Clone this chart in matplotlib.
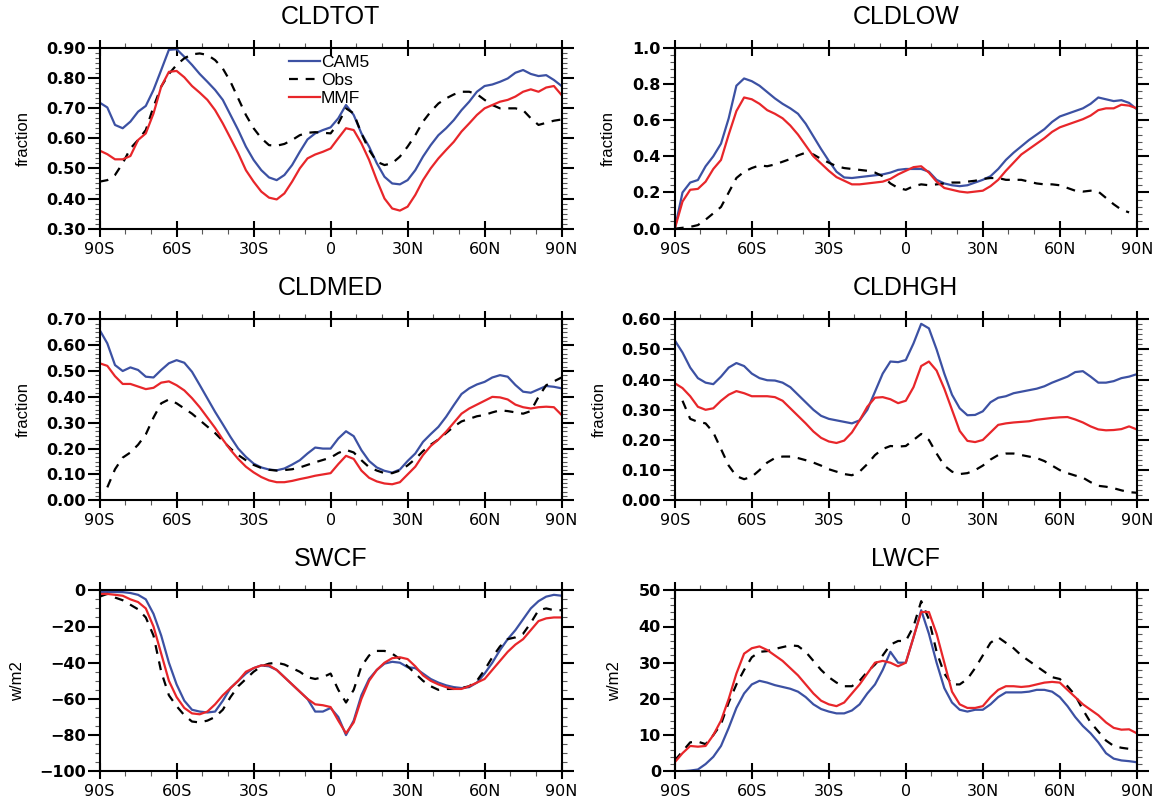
import numpy as np
import matplotlib
matplotlib.use('Agg')
import matplotlib.pyplot as plt
from matplotlib.ticker import FixedLocator, MultipleLocator, AutoMinorLocator, FuncFormatter

# ── Data (zonal means, 3 degree latitude steps, 90S -> 90N) ─────────────────

LAT = np.arange(-90, 91, 3)
LAT_TICKS = [-90, -60, -30, 0, 30, 60, 90]
LAT_LABELS = ['90S', '60S', '30S', '0', '30N', '60N', '90N']

nan = np.nan

cldtot_cam5 = [0.718, 0.702, 0.644, 0.633, 0.655, 0.688, 0.707, 0.760, 0.826, 0.893,
               0.895, 0.870, 0.843, 0.813, 0.787, 0.760, 0.727, 0.677, 0.627, 0.572,
               0.528, 0.494, 0.470, 0.461, 0.478, 0.511, 0.555, 0.596, 0.616, 0.627,
               0.636, 0.666, 0.710, 0.677, 0.616, 0.572, 0.517, 0.472, 0.450, 0.447,
               0.461, 0.494, 0.539, 0.577, 0.610, 0.633, 0.660, 0.693, 0.721, 0.754,
               0.773, 0.778, 0.787, 0.798, 0.817, 0.826, 0.813, 0.806, 0.809, 0.793,
               0.773]
cldtot_obs = [0.456, 0.461, 0.478, 0.517, 0.566, 0.594, 0.627, 0.704, 0.771, 0.813,
              0.843, 0.865, 0.878, 0.881, 0.876, 0.859, 0.831, 0.787, 0.732, 0.677,
              0.633, 0.600, 0.577, 0.575, 0.581, 0.594, 0.610, 0.618, 0.620, 0.618,
              0.616, 0.649, 0.699, 0.682, 0.616, 0.561, 0.522, 0.511, 0.517, 0.539,
              0.572, 0.610, 0.655, 0.688, 0.715, 0.732, 0.745, 0.754, 0.754, 0.746,
              0.727, 0.710, 0.699, 0.699, 0.699, 0.693, 0.666, 0.644, 0.651, 0.658,
              0.662]
cldtot_mmf = [0.559, 0.547, 0.530, 0.530, 0.541, 0.594, 0.616, 0.682, 0.771, 0.820,
              0.823, 0.802, 0.773, 0.751, 0.727, 0.693, 0.649, 0.600, 0.550, 0.494,
              0.456, 0.423, 0.403, 0.397, 0.417, 0.456, 0.500, 0.533, 0.546, 0.555,
              0.566, 0.600, 0.633, 0.627, 0.583, 0.528, 0.461, 0.400, 0.367, 0.360,
              0.373, 0.412, 0.461, 0.500, 0.533, 0.561, 0.588, 0.622, 0.649, 0.677,
              0.699, 0.710, 0.721, 0.727, 0.738, 0.754, 0.762, 0.754, 0.768, 0.773,
              0.743]

cldlow_cam5 = [0.000, 0.200, 0.255, 0.269, 0.345, 0.400, 0.470, 0.610, 0.790, 0.830,
               0.815, 0.790, 0.755, 0.720, 0.690, 0.665, 0.635, 0.580, 0.510, 0.440,
               0.375, 0.315, 0.283, 0.280, 0.285, 0.290, 0.295, 0.300, 0.310, 0.325,
               0.330, 0.330, 0.330, 0.315, 0.270, 0.250, 0.240, 0.235, 0.240, 0.255,
               0.270, 0.290, 0.330, 0.380, 0.420, 0.455, 0.490, 0.520, 0.550, 0.590,
               0.620, 0.635, 0.650, 0.665, 0.690, 0.725, 0.715, 0.705, 0.710, 0.695,
               0.660]
cldlow_obs = [0.000, 0.005, 0.010, 0.020, 0.050, 0.085, 0.120, 0.200, 0.280, 0.315,
              0.335, 0.350, 0.345, 0.355, 0.370, 0.385, 0.405, 0.420, 0.410, 0.385,
              0.365, 0.345, 0.335, 0.330, 0.325, 0.320, 0.310, 0.290, 0.250, 0.225,
              0.215, 0.235, 0.245, 0.240, 0.245, 0.250, 0.255, 0.255, 0.260, 0.265,
              0.275, 0.280, 0.280, 0.270, 0.270, 0.270, 0.260, 0.250, 0.245, 0.245,
              0.240, 0.225, 0.210, 0.205, 0.210, 0.205, 0.170, 0.135, 0.105, 0.090,
              nan]
cldlow_mmf = [0.000, 0.150, 0.215, 0.220, 0.260, 0.330, 0.380, 0.520, 0.650, 0.725,
              0.715, 0.690, 0.655, 0.635, 0.610, 0.570, 0.520, 0.460, 0.400, 0.360,
              0.320, 0.285, 0.265, 0.245, 0.245, 0.250, 0.255, 0.260, 0.275, 0.300,
              0.320, 0.340, 0.345, 0.310, 0.260, 0.225, 0.215, 0.205, 0.200, 0.205,
              0.210, 0.235, 0.270, 0.320, 0.365, 0.410, 0.440, 0.470, 0.500, 0.535,
              0.560, 0.575, 0.590, 0.605, 0.625, 0.655, 0.665, 0.665, 0.685, 0.680,
              0.665]

cldmed_cam5 = [0.659, 0.607, 0.523, 0.500, 0.514, 0.504, 0.478, 0.475, 0.504, 0.530,
               0.542, 0.532, 0.497, 0.446, 0.394, 0.342, 0.294, 0.245, 0.200, 0.168,
               0.142, 0.127, 0.119, 0.116, 0.123, 0.138, 0.155, 0.181, 0.204, 0.200,
               0.200, 0.239, 0.267, 0.248, 0.194, 0.152, 0.127, 0.114, 0.107, 0.119,
               0.152, 0.181, 0.226, 0.256, 0.284, 0.323, 0.368, 0.411, 0.433, 0.448,
               0.458, 0.475, 0.484, 0.478, 0.446, 0.420, 0.416, 0.429, 0.442, 0.439,
               0.433]
cldmed_obs = [nan, 0.050, 0.120, 0.165, 0.185, 0.215, 0.255, 0.320, 0.375, 0.390,
              0.375, 0.355, 0.335, 0.310, 0.285, 0.260, 0.230, 0.200, 0.175, 0.155,
              0.137, 0.125, 0.118, 0.115, 0.117, 0.120, 0.127, 0.137, 0.147, 0.156,
              0.165, 0.183, 0.195, 0.185, 0.155, 0.128, 0.115, 0.105, 0.105, 0.115,
              0.135, 0.160, 0.190, 0.215, 0.235, 0.260, 0.285, 0.305, 0.315, 0.325,
              0.330, 0.340, 0.348, 0.345, 0.340, 0.335, 0.345, 0.400, 0.445, 0.460,
              0.475]
cldmed_mmf = [0.530, 0.520, 0.480, 0.450, 0.450, 0.440, 0.430, 0.435, 0.455, 0.460,
              0.445, 0.425, 0.395, 0.360, 0.320, 0.280, 0.235, 0.195, 0.160, 0.130,
              0.108, 0.090, 0.077, 0.070, 0.070, 0.075, 0.082, 0.088, 0.095, 0.100,
              0.105, 0.140, 0.172, 0.160, 0.115, 0.087, 0.073, 0.065, 0.062, 0.070,
              0.100, 0.130, 0.175, 0.210, 0.235, 0.265, 0.300, 0.335, 0.355, 0.370,
              0.385, 0.400, 0.398, 0.390, 0.370, 0.360, 0.355, 0.360, 0.362, 0.360,
              0.330]

cldhgh_cam5 = [0.530, 0.490, 0.440, 0.405, 0.390, 0.385, 0.410, 0.440, 0.455, 0.445,
               0.420, 0.405, 0.398, 0.397, 0.390, 0.375, 0.350, 0.325, 0.300, 0.280,
               0.270, 0.265, 0.260, 0.255, 0.265, 0.300, 0.360, 0.420, 0.460, 0.458,
               0.465, 0.520, 0.585, 0.570, 0.500, 0.420, 0.350, 0.305, 0.282, 0.283,
               0.295, 0.325, 0.340, 0.345, 0.355, 0.360, 0.365, 0.370, 0.378, 0.390,
               0.400, 0.410, 0.425, 0.428, 0.410, 0.390, 0.390, 0.395, 0.405, 0.410,
               0.418]
cldhgh_obs = [nan, 0.330, 0.270, 0.260, 0.255, 0.225, 0.170, 0.115, 0.080, 0.070,
              0.078, 0.100, 0.125, 0.140, 0.145, 0.145, 0.140, 0.133, 0.125, 0.115,
              0.103, 0.095, 0.087, 0.083, 0.095, 0.120, 0.150, 0.170, 0.180, 0.178,
              0.180, 0.200, 0.220, 0.200, 0.155, 0.115, 0.095, 0.087, 0.090, 0.100,
              0.115, 0.135, 0.150, 0.155, 0.155, 0.150, 0.145, 0.140, 0.130, 0.115,
              0.100, 0.090, 0.082, 0.075, 0.060, 0.048, 0.045, 0.040, 0.033, 0.027,
              0.025]
cldhgh_mmf = [0.388, 0.372, 0.345, 0.310, 0.300, 0.305, 0.330, 0.350, 0.362, 0.355,
              0.345, 0.345, 0.345, 0.342, 0.330, 0.305, 0.280, 0.255, 0.228, 0.207,
              0.195, 0.190, 0.198, 0.225, 0.265, 0.310, 0.340, 0.342, 0.335, 0.322,
              0.330, 0.375, 0.445, 0.460, 0.430, 0.370, 0.300, 0.230, 0.197, 0.193,
              0.200, 0.225, 0.250, 0.255, 0.258, 0.260, 0.262, 0.267, 0.270, 0.273,
              0.275, 0.276, 0.268, 0.258, 0.245, 0.235, 0.232, 0.233, 0.236, 0.245,
              0.235]

swcf_cam5 = [-1.0, -1.0, -1.0, -1.0, -1.5, -2.5, -5.0, -13.0, -25.0, -40.0,
             -52.0, -61.0, -66.0, -67.0, -67.5, -67.0, -61.0, -54.0, -50.0, -46.0,
             -43.0, -41.5, -42.0, -44.0, -48.0, -52.0, -56.0, -60.0, -67.0, -67.0,
             -65.0, -70.0, -80.0, -72.0, -58.0, -49.0, -44.0, -40.5, -39.5, -40.0,
             -42.5, -43.0, -46.0, -49.0, -51.0, -52.5, -53.5, -54.0, -53.5, -51.0,
             -46.0, -40.0, -33.0, -27.0, -22.0, -16.0, -10.0, -6.0, -3.5, -2.5,
             -3.0]
swcf_obs = [-3.5, -2.0, -4.0, -5.5, -8.0, -10.5, -15.0, -25.0, -45.0, -58.0,
            -64.0, -69.0, -72.5, -73.0, -72.0, -70.0, -66.0, -59.0, -53.0, -49.0,
            -45.0, -42.0, -40.5, -40.0, -41.0, -43.0, -45.0, -48.0, -49.0, -48.0,
            -46.0, -55.0, -62.0, -55.0, -42.0, -36.0, -33.5, -33.5, -35.0, -38.0,
            -42.0, -46.0, -50.0, -53.0, -55.0, -54.5, -54.5, -54.0, -53.0, -50.0,
            -44.0, -37.0, -31.0, -27.0, -26.0, -24.0, -18.0, -11.0, -10.0, -11.0,
            -11.0]
swcf_mmf = [-2.0, -2.0, -2.5, -3.0, -5.0, -6.5, -10.0, -20.0, -35.0, -50.0,
            -59.0, -65.0, -68.0, -68.5, -67.0, -63.0, -58.0, -54.0, -50.0, -45.0,
            -43.0, -41.5, -41.5, -44.0, -48.0, -52.0, -56.0, -60.0, -63.0, -63.5,
            -64.5, -72.0, -79.0, -73.0, -60.0, -50.0, -44.0, -40.0, -37.5, -37.0,
            -38.0, -42.0, -47.0, -50.0, -52.0, -53.5, -54.5, -54.5, -53.0, -51.0,
            -49.0, -44.0, -39.0, -34.0, -30.0, -27.0, -22.0, -17.0, -15.5, -15.0,
            -15.0]

lwcf_cam5 = [0.0, 0.0, 0.2, 0.5, 2.0, 4.0, 7.0, 12.0, 17.5, 21.5,
             24.0, 25.0, 24.5, 23.8, 23.3, 22.8, 22.0, 20.5, 18.5, 17.2,
             16.5, 16.0, 16.0, 16.8, 18.5, 21.5, 24.0, 28.0, 33.0, 30.0,
             30.0, 37.0, 44.5, 38.0, 30.0, 23.0, 19.0, 17.0, 16.5, 17.0,
             17.0, 18.5, 20.5, 21.8, 21.8, 21.8, 22.0, 22.5, 22.5, 22.0,
             20.5, 18.0, 15.0, 12.5, 10.5, 8.0, 5.0, 3.5, 3.0, 2.8,
             2.5]
lwcf_obs = [3.0, 5.5, 8.0, 8.2, 7.5, 10.0, 13.0, 19.0, 24.0, 28.0,
            31.5, 33.0, 33.2, 33.8, 34.3, 34.8, 34.6, 33.0, 30.5, 28.0,
            26.0, 24.5, 23.5, 23.5, 25.0, 27.5, 29.5, 32.0, 35.0, 36.0,
            36.0, 40.0, 47.0, 42.0, 33.0, 27.0, 24.0, 24.0, 25.5, 28.5,
            32.0, 35.5, 37.0, 35.5, 34.0, 32.0, 30.5, 29.0, 27.5, 26.0,
            25.5, 23.5, 21.0, 17.0, 13.5, 11.0, 8.5, 7.0, 6.5, 6.2,
            6.0]
lwcf_mmf = [2.5, 5.0, 7.0, 6.8, 7.0, 10.0, 14.0, 20.0, 27.0, 32.5,
            34.0, 34.5, 33.5, 32.0, 30.5, 28.5, 26.5, 24.0, 21.5, 19.5,
            18.5, 18.0, 19.0, 21.5, 24.0, 27.0, 30.0, 30.5, 30.0, 29.0,
            30.0, 37.0, 44.0, 44.0, 38.0, 30.0, 22.0, 18.5, 17.5, 17.5,
            18.0, 20.5, 22.5, 23.5, 23.5, 23.3, 23.5, 24.0, 24.5, 24.7,
            24.5, 22.5, 20.5, 18.5, 17.0, 15.5, 13.5, 12.0, 11.5, 11.6,
            10.5]

# ── Layout ────────────────────────────────────────────────────────────────────

W, H = 1159, 808
COL_X = [99.6, 674.8]
COL_W = 462.0
ROW_TOP = [47.7, 319.3, 590.3]
ROW_H = 181.0

CAM5_COLOR = '#3c51a3'
MMF_COLOR = '#e8262a'

PANELS = [
    # title, ylabel, ylim, major, minor intervals, decimals, ylabel x (axes frac), cam5, obs, mmf
    ('CLDTOT', 'fraction', (0.3, 0.9), 0.1, 6, 2, -0.150, cldtot_cam5, cldtot_obs, cldtot_mmf),
    ('CLDLOW', 'fraction', (0.0, 1.0), 0.2, 5, 1, -0.128, cldlow_cam5, cldlow_obs, cldlow_mmf),
    ('CLDMED', 'fraction', (0.0, 0.7), 0.1, 6, 2, -0.150, cldmed_cam5, cldmed_obs, cldmed_mmf),
    ('CLDHGH', 'fraction', (0.0, 0.6), 0.1, 6, 2, -0.147, cldhgh_cam5, cldhgh_obs, cldhgh_mmf),
    ('SWCF', 'w/m2', (-100, 0), 20, 4, 0, -0.162, swcf_cam5, swcf_obs, swcf_mmf),
    ('LWCF', 'w/m2', (0, 50), 10, 5, 0, -0.115, lwcf_cam5, lwcf_obs, lwcf_mmf),
]


def make_formatter(decimals):
    def fmt(v, pos):
        s = f'{abs(v):.{decimals}f}'
        return ('\u2212' + s) if v < -1e-9 else s
    return FuncFormatter(fmt)


plt.rcParams['font.family'] = ['Liberation Sans', 'DejaVu Sans']

fig = plt.figure(figsize=(W / 100, H / 100), dpi=100)

for i, (title, ylabel, ylim, major, nminor, dec, ylab_x, cam5, obs, mmf) in enumerate(PANELS):
    row, col = divmod(i, 2)
    ax = fig.add_axes([COL_X[col] / W, 1 - (ROW_TOP[row] + ROW_H) / H,
                       COL_W / W, ROW_H / H])

    l1, = ax.plot(LAT, cam5, color=CAM5_COLOR, lw=1.6, label='CAM5')
    l2, = ax.plot(LAT, obs, color='black', lw=1.6, dashes=(4, 3.5), label='Obs')
    l3, = ax.plot(LAT, mmf, color=MMF_COLOR, lw=1.6, label='MMF')

    ax.set_xlim(-90, 90)
    ax.set_ylim(*ylim)

    ax.xaxis.set_major_locator(FixedLocator(LAT_TICKS))
    ax.set_xticklabels(LAT_LABELS)
    ax.xaxis.set_minor_locator(MultipleLocator(10))
    ax.yaxis.set_major_locator(MultipleLocator(major))
    ax.yaxis.set_minor_locator(AutoMinorLocator(nminor))
    ax.yaxis.set_major_formatter(make_formatter(dec))

    ax.tick_params(axis='x', which='major', direction='inout', length=11, width=1.5,
                   top=True, bottom=True, pad=4, labelsize=11.5)
    ax.tick_params(axis='y', which='major', direction='out', length=8.5, width=1.5,
                   left=True, right=True, pad=1.5, labelsize=11.5)
    ax.tick_params(which='minor', direction='out', length=3.8, width=0.8,
                   color='0.35', top=True, bottom=True, left=True, right=True)
    for lab in ax.get_yticklabels():
        lab.set_fontfamily('DejaVu Sans')
        lab.set_fontweight('bold')
    for lab in ax.get_xticklabels():
        lab.set_fontfamily('DejaVu Sans')

    for s in ax.spines.values():
        s.set_linewidth(1.5)

    ax.set_ylabel(ylabel, fontsize=12)
    ax.yaxis.set_label_coords(ylab_x, 0.5)
    ax.text(0.5, 1 + 24 / ROW_H, title, transform=ax.transAxes,
            ha='center', va='baseline', fontsize=18)

    if i == 0:
        ax.legend(handles=[l1, l2, l3], loc='upper left',
                  bbox_to_anchor=((289 - 99.6) / COL_W, (228.7 - 55) / ROW_H),
                  frameon=False, fontsize=12.5, handlelength=1.8, handletextpad=0.05,
                  borderpad=0, borderaxespad=0, labelspacing=0.15)

fig.savefig('out.png', dpi=100)
